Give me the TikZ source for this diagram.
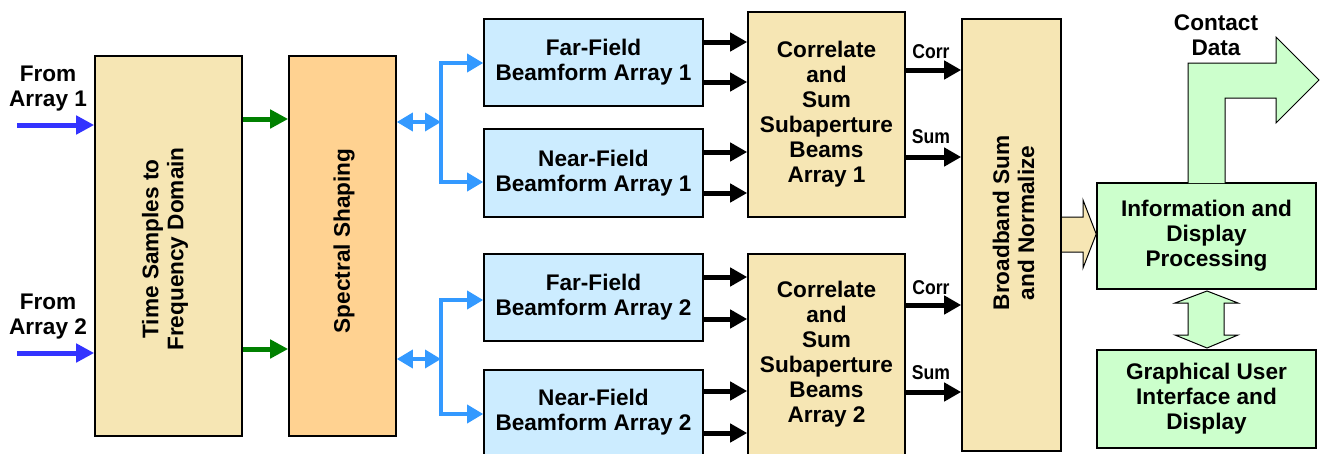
\documentclass[tikz,border=0pt]{standalone}
\usepackage{fontspec}
\setmainfont{Liberation Sans}
\usetikzlibrary{arrows.meta}
\definecolor{wheat}{HTML}{F6E6B4}
\definecolor{orng}{HTML}{FFD291}
\definecolor{skyb}{HTML}{CCECFF}
\definecolor{mint}{HTML}{CCFFCC}
\definecolor{inblue}{HTML}{3333FF}
\definecolor{arrgreen}{HTML}{008000}
\definecolor{ltblue}{HTML}{3399FF}
\begin{document}
\begin{tikzpicture}[x=1pt,y=-1pt,
  box/.style={draw, line width=1.6pt, inner sep=0pt, align=center, font=\bfseries\fontsize{22.6}{25}\selectfont},
  txt/.style={inner sep=0pt, align=center, font=\bfseries\fontsize{22.6}{25}\selectfont},
  lab/.style={inner sep=0pt, font=\bfseries\fontsize{20}{22}\selectfont},
  blk/.style={line width=5pt, -{Triangle[length=17pt,width=18pt]}},
  inb/.style={draw=inblue, line width=5pt, -{Triangle[length=18pt,width=18pt]}},
  grn/.style={draw=arrgreen, line width=5pt, -{Triangle[length=18pt,width=18pt]}},
  ltb/.style={draw=ltblue, line width=3.5pt, line join=miter, {Triangle[length=16pt,width=18pt]}-{Triangle[length=16pt,width=18pt]}},
  fat/.style={draw, line width=1pt, line join=miter}
]
\useasboundingbox (0,0) rectangle (1320,453);

% boxes
\node[box, fill=wheat, minimum width=147pt, minimum height=380pt] (ts) at (168.5,246) {};
\node[txt, rotate=90] (tsT) at (165,249) {Time Samples to\\Frequency Domain};
\node[box, fill=orng, minimum width=107pt, minimum height=380pt] (sp) at (342.5,246) {};
\node[txt, rotate=90] (spT) at (344,241) {Spectral Shaping};

\node[box, fill=skyb, minimum width=219pt, minimum height=87pt] (ff1) at (593.5,62.5) {Far-Field\\Beamform Array 1};
\node[box, fill=skyb, minimum width=219pt, minimum height=88pt] (nf1) at (593.5,173) {Near-Field\\Beamform Array 1};
\node[box, fill=skyb, minimum width=219pt, minimum height=87pt] (ff2) at (593.5,297.5) {Far-Field\\Beamform Array 2};
\node[box, fill=skyb, minimum width=219pt, minimum height=85pt] (nf2) at (593.5,412.5) {Near-Field\\Beamform Array 2};

\node[box, fill=wheat, minimum width=157pt, minimum height=205pt] (cs1) at (826.5,114.5) {Correlate\\and\\Sum\\Subaperture\\Beams\\Array 1};
\node[box, fill=wheat, minimum width=157pt, minimum height=201pt] (cs2) at (826.5,354.5) {Correlate\\and\\Sum\\Subaperture\\Beams\\Array 2};

\node[box, fill=wheat, minimum width=99pt, minimum height=432pt] (bb) at (1011.5,235) {};
\node[txt, rotate=90] (bbT) at (1013.5,223) {Broadband Sum\\and Normalize};

\node[box, fill=mint, minimum width=219pt, minimum height=106pt] (info) at (1206.5,236) {Information and\\Display\\Processing};
\node[box, fill=mint, minimum width=219pt, minimum height=98pt] (gui) at (1206.5,399) {Graphical User\\Interface and\\Display};

% free labels
\node[txt] (from1) at (48,89) {From\\Array 1};
\node[txt] (from2) at (48,317) {From\\Array 2};
\node[txt] (contact) at (1216,35) {Contact\\Data};
\node[lab] (corr1) at (931,52) {\scalebox{0.88}[1]{Corr}};
\node[lab] (sum1) at (931,137) {\scalebox{0.88}[1]{Sum}};
\node[lab] (corr2) at (931,288) {\scalebox{0.88}[1]{Corr}};
\node[lab] (sum2) at (931,373) {\scalebox{0.88}[1]{Sum}};

% coordinates
\coordinate (in1) at (17,125);
\coordinate (in2) at (17,353);
\coordinate (br1) at (441,122);
\coordinate (br2) at (441,359);

% input arrows
\draw[inb] (in1) -- (ts.west |- in1);
\draw[inb] (in2) -- (ts.west |- in2);
\draw[grn] (ts.east |- 0,119) -- (sp.west |- 0,119);
\draw[grn] (ts.east |- 0,349) -- (sp.west |- 0,349);

% light blue distribution
\draw[ltb] (sp.east |- br1) -- (br1);
\draw[ltb] (sp.east |- br2) -- (br2);
\draw[ltb] (ff1.west |- 0,63) -| (br1 |- 0,182) -- (nf1.west |- 0,182);
\draw[ltb] (ff2.west |- 0,300) -| (br2 |- 0,414) -- (nf2.west |- 0,414);

% black arrows into correlators
\draw[blk] (ff1.east |- 0,42) -- (cs1.west |- 0,42);
\draw[blk] (ff1.east |- 0,82) -- (cs1.west |- 0,82);
\draw[blk] (nf1.east |- 0,152) -- (cs1.west |- 0,152);
\draw[blk] (nf1.east |- 0,193) -- (cs1.west |- 0,193);
\draw[blk] (ff2.east |- 0,277) -- (cs2.west |- 0,277);
\draw[blk] (ff2.east |- 0,319) -- (cs2.west |- 0,319);
\draw[blk] (nf2.east |- 0,391) -- (cs2.west |- 0,391);
\draw[blk] (nf2.east |- 0,433) -- (cs2.west |- 0,433);

% corr / sum
\draw[blk] (cs1.east |- 0,70) -- (bb.west |- 0,70);
\draw[blk] (cs1.east |- 0,157) -- (bb.west |- 0,157);
\draw[blk] (cs2.east |- 0,305) -- (bb.west |- 0,305);
\draw[blk] (cs2.east |- 0,392) -- (bb.west |- 0,392);

% fat arrows
\draw[fat, fill=wheat] (1062,217) -- (1083,217) -- (1083,200) -- (info.west |- 0,234) -- (1083,268) -- (1083,252) -- (1062,252);
\draw[fat, fill=mint] (1188,183) -- (1188,63) -- (1276,63) -- (1276,37) -- (1319,80) -- (1276,123) -- (1276,98) -- (1225,98) -- (1225,183);
\draw[fat, fill=mint] (1207,291) -- (1238,303) -- (1224,303) -- (1224,335) -- (1238,335) -- (1207,348) -- (1175,335) -- (1188,335) -- (1188,303) -- (1175,303) -- cycle;
\end{tikzpicture}
\end{document}
